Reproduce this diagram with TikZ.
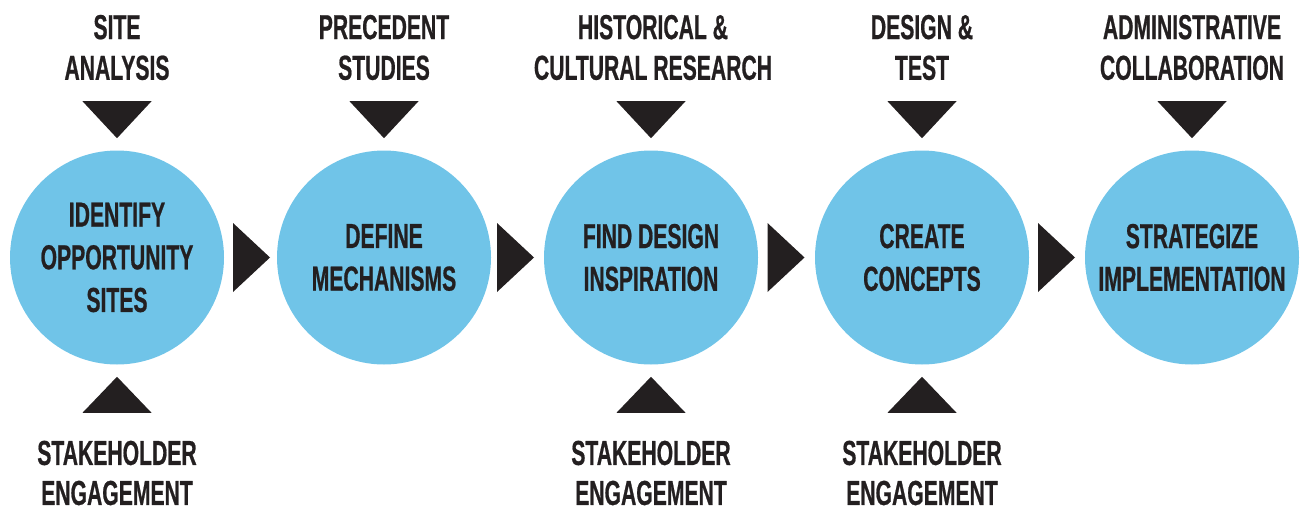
\documentclass[tikz,border=0pt]{standalone}
\usepackage{fontspec}
\usetikzlibrary{calc}
\newfontfamily\bebas{Liberation Sans}[FakeStretch=0.61,FakeBold=0.6]
\definecolor{stepblue}{HTML}{70C4E8}
\definecolor{ink}{HTML}{231F20}
\begin{document}
\begin{tikzpicture}[x=0.75pt,y=-0.75pt,
  stepcircle/.style={circle,fill=stepblue,draw=none,inner sep=0pt,minimum size=160.5pt,
    text=ink,align=center,font=\bebas\bfseries\fontsize{26}{32}\selectfont},
  toplabel/.style={text=ink,align=center,inner sep=0pt,font=\bebas\bfseries\fontsize{26}{30.5}\selectfont},
  botlabel/.style={text=ink,align=center,inner sep=0pt,font=\bebas\bfseries\fontsize{26}{30}\selectfont},
  tri/.style={fill=ink,draw=none}]
\useasboundingbox (0,0) rectangle (1306,510);
% circles
\node[stepcircle] (c1) at (117,257.5) {IDENTIFY\\OPPORTUNITY\\SITES};
\node[stepcircle] (c2) at (384,257.5) {DEFINE\\MECHANISMS};
\node[stepcircle] (c3) at (651,257.5) {FIND DESIGN\\INSPIRATION};
\node[stepcircle] (c4) at (922,257.5) {CREATE\\CONCEPTS};
\node[stepcircle] (c5) at (1192,257.5) {STRATEGIZE\\IMPLEMENTATION};
% top labels
\node[toplabel] (t1) at (117,47.5) {SITE\\ANALYSIS};
\node[toplabel] (t2) at (384,47.5) {PRECEDENT\\STUDIES};
\node[toplabel] (t3) at (653,47.5) {HISTORICAL \&\\CULTURAL RESEARCH};
\node[toplabel] (t4) at (922,47.5) {DESIGN \&\\TEST};
\node[toplabel] (t5) at (1192,47.5) {ADMINISTRATIVE\\COLLABORATION};
% bottom labels
\node[botlabel] (b1) at (117,473) {STAKEHOLDER\\ENGAGEMENT};
\node[botlabel] (b3) at (651,473) {STAKEHOLDER\\ENGAGEMENT};
\node[botlabel] (b4) at (922,473) {STAKEHOLDER\\ENGAGEMENT};
% top triangles (pointing down into circles)
\foreach \i in {1,...,5}{
  \fill[tri] ($(c\i.north)+(-34.5,-49)$) -- ($(c\i.north)+(34.5,-49)$) -- ($(c\i.north)+(0,-12)$) -- cycle;
}
% bottom triangles (pointing up into circles)
\foreach \i in {1,3,4}{
  \fill[tri] ($(c\i.south)+(-34.5,48)$) -- ($(c\i.south)+(34.5,48)$) -- ($(c\i.south)+(0,12)$) -- cycle;
}
% right triangles between circles
\coordinate (m1) at ($(c1.east)!0.5!(c2.west)+(1,0)$);
\coordinate (m2) at ($(c2.east)!0.5!(c3.west)+(-2,0)$);
\coordinate (m3) at ($(c3.east)!0.5!(c4.west)+(-0.5,0)$);
\coordinate (m4) at ($(c4.east)!0.5!(c5.west)+(-0.5,0)$);
\foreach \i in {1,...,4}{
  \fill[tri] ($(m\i)+(-18.5,-34.5)$) -- ($(m\i)+(-18.5,34.5)$) -- ($(m\i)+(18.5,0)$) -- cycle;
}
\end{tikzpicture}
\end{document}
